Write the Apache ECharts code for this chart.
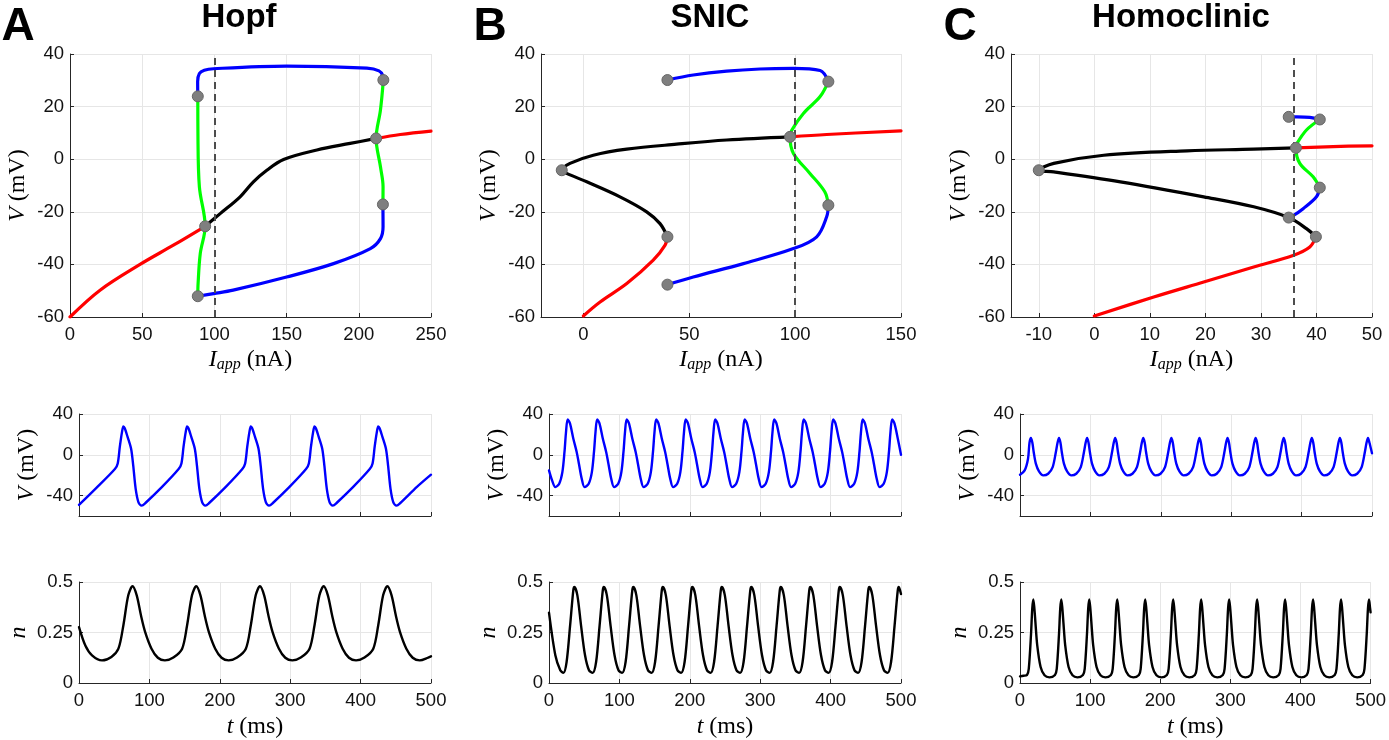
<!DOCTYPE html>
<html><head><meta charset="utf-8">
<script src="https://cdn.jsdelivr.net/npm/echarts@6/dist/echarts.min.js"></script>
<style>html,body{margin:0;padding:0;background:#fff}#c{width:1389px;height:740px}</style>
</head><body><div id="c"></div><script>
// ---------- tick labels ----------
const hopfXTicks = [0,50,100,150,200,250];
const snicXTicks = [0,50,100,150];
const homXTicks = [-10,0,10,20,30,40,50];
const bifVTicks = [-60,-40,-20,0,20,40];
const timeTicks = [0,100,200,300,400,500];
const traceVTicks = [-40,0,40];
const traceNTicks = [0,0.25,0.5];
const panelTitles = ['Hopf','SNIC','Homoclinic'];
const panelLetters = ['A','B','C'];
const dashX = [100,100,36];

// ---------- Hopf bifurcation diagram ----------
const hopfRedLow = [[0,-60],[20.8,-49.8],[48.5,-40],[71.6,-32.7],[93.6,-25.5]];
const hopfBlack = [[93.6,-25.5],[104,-20.7],[117.8,-14.3],[127,-8.6],[136.3,-4.2],[147.9,-0.1],[171,3.5],[194,6],[212,7.9]];
const hopfRedHigh = [[212,7.9],[228.7,9.4],[250,10.7]];
const hopfGreenL = [[88.5,23.9],[88.6,9.8],[89.6,-10.5],[93.6,-25.5],[90.2,-35.9],[88.7,-47.3],[88.5,-52.1]];
const hopfGreenR = [[217,30.1],[215,18.7],[212,7.9],[215,-2.9],[216.8,-10.5],[216.7,-17.2]];
const hopfBlueTop = [[88.5,23.9],[88.4,29.5],[89.6,32.6],[93,33.8],[99.4,34.4],[150,35.4],[205.6,34.6],[214,33.6],[216.6,31.8],[217,30.1]];
const hopfBlueBot = [[216.7,-17.2],[216.8,-25.7],[215,-30.2],[208,-34],[182.5,-39.7],[150,-44.8],[113,-49.8],[99.4,-51.1],[88.5,-52.1]];
const hopfDots = [[88.5,23.9],[217,30.1],[212,7.9],[216.7,-17.2],[93.6,-25.5],[88.5,-52.1]];

// ---------- SNIC bifurcation diagram ----------
const snicRedLow = [[0,-59.6],[7.9,-54.3],[20.5,-47.3],[33,-38.4],[38.6,-32.7],[39.7,-29.5]];
const snicBlack = [[39.7,-29.5],[36.2,-24.5],[29.9,-20],[17.3,-14.3],[1.6,-8.6],[-7.9,-5.4],[-10.2,-4.2],[-6.3,-1.6],[4.7,1.5],[20.5,3.8],[44,5.7],[67.7,7.3],[97.6,8.5]];
const snicRedHigh = [[97.6,8.5],[114.9,9.4],[150,10.8]];
const snicBlueTop = [[39.7,30.1],[51.9,32],[67.7,33.5],[83.4,34.3],[99.2,34.5],[111.8,33.7],[115.7,29.5]];
const snicGreen = [[115.7,29.5],[111.8,23.8],[103.9,17.4],[98.4,11],[97.6,8.5],[99.2,2.2],[107,-5.4],[114,-12.4],[115.7,-17.5]];
const snicBlueBot = [[115.7,-17.5],[114.9,-21.9],[110.2,-29.5],[99.2,-34],[75.6,-39.7],[51.9,-44.8],[39.7,-47.7]];
const snicDots = [[39.7,30.1],[115.7,29.5],[97.6,8.5],[-10.2,-4.2],[115.7,-17.5],[39.7,-29.5],[39.7,-47.7]];

// ---------- Homoclinic bifurcation diagram ----------
const homRedLow = [[0,-59.6],[10.7,-52.4],[19.7,-46.7],[28.7,-41],[35.9,-36.5],[38.8,-33.4],[39.9,-29.5]];
const homBlack = [[39.9,-29.5],[38.2,-26.4],[35,-22.2],[28.7,-18.1],[19.7,-14.3],[4.7,-8.6],[-7.3,-4.8],[-10,-4.2],[-7.3,-1.6],[1.7,1.5],[16.7,3.2],[28.7,3.8],[36.3,4.3]];
const homRedHigh = [[36.3,4.3],[43,4.8],[50,5.1]];
const homBlueTop = [[35,16.1],[36.5,16.1],[38.8,15.9],[40.6,15.1]];
const homGreen = [[40.6,15.1],[38.2,11.1],[36.5,6],[36.3,4.3],[37,-1.6],[39.4,-6.7],[40.6,-10.8]];
const homBlueBot = [[40.6,-10.8],[40,-14.3],[37.6,-18.8],[35.7,-21.6],[35,-22.2]];
const homDots = [[35,16.1],[40.6,15.1],[36.3,4.3],[-10,-4.2],[40.6,-10.8],[35,-22.2],[39.9,-29.5]];

// ---------- voltage traces ----------
const hopfV = [[0,-49.2],[24,-33],[51,-14],[55,-8.5],[58,8],[61,22],[63,27.8],[65,26],[69,17.6],[74,6],[77,-10.3],[80.5,-33.4],[84.5,-46.6],[89,-49.8],[94,-47.5],[118,-31.5],
[141.5,-14],[145.5,-8.5],[148.5,8],[151.5,22],[153.5,27.8],[155.5,26],[159.5,17.6],[164.5,6],[167.5,-10.3],[171,-33.4],[175,-46.6],[179.5,-49.8],[184.5,-47.5],[208.5,-31.5],
[232,-14],[236,-8.5],[239,8],[242,22],[244,27.8],[246,26],[250,17.6],[255,6],[258,-10.3],[261.5,-33.4],[265.5,-46.6],[270,-49.8],[275,-47.5],[299,-31.5],
[322.5,-14],[326.5,-8.5],[329.5,8],[332.5,22],[334.5,27.8],[336.5,26],[340.5,17.6],[345.5,6],[348.5,-10.3],[352,-33.4],[356,-46.6],[360.5,-49.8],[365.5,-47.5],[389.5,-31.5],
[413,-14],[417,-8.5],[420,8],[423,22],[425,27.8],[427,26],[431,17.6],[436,6],[439,-10.3],[442.5,-33.4],[446.5,-46.6],[451,-49.8],[456,-47.5],[480,-31.5],[500,-19.5]];

const snicV = [[0,-15.3],[4.3,-25],[9,-31.7],
[14.5,-28.4],[19,-17],[22,2.8],[24.2,22.6],[26.5,34.7],[29.8,30.8],[34.5,16],[39.3,2.8],[42.5,-8.7],[46.5,-23.5],[50.5,-31.7],
[56.4,-28.4],[60.9,-17],[63.9,2.8],[66.1,22.6],[68.4,34.7],[71.7,30.8],[76.4,16],[81.2,2.8],[84.4,-8.7],[88.4,-23.5],[92.4,-31.7],
[98.3,-28.4],[102.8,-17],[105.8,2.8],[108,22.6],[110.3,34.7],[113.6,30.8],[118.3,16],[123.1,2.8],[126.3,-8.7],[130.3,-23.5],[134.3,-31.7],
[140.2,-28.4],[144.7,-17],[147.7,2.8],[149.9,22.6],[152.2,34.7],[155.5,30.8],[160.2,16],[165,2.8],[168.2,-8.7],[172.2,-23.5],[176.2,-31.7],
[182.1,-28.4],[186.6,-17],[189.6,2.8],[191.8,22.6],[194.1,34.7],[197.4,30.8],[202.1,16],[206.9,2.8],[210.1,-8.7],[214.1,-23.5],[218.1,-31.7],
[224,-28.4],[228.5,-17],[231.5,2.8],[233.7,22.6],[236,34.7],[239.3,30.8],[244,16],[248.8,2.8],[252,-8.7],[256,-23.5],[260,-31.7],
[265.9,-28.4],[270.4,-17],[273.4,2.8],[275.6,22.6],[277.9,34.7],[281.2,30.8],[285.9,16],[290.7,2.8],[293.9,-8.7],[297.9,-23.5],[301.9,-31.7],
[307.8,-28.4],[312.3,-17],[315.3,2.8],[317.5,22.6],[319.8,34.7],[323.1,30.8],[327.8,16],[332.6,2.8],[335.8,-8.7],[339.8,-23.5],[343.8,-31.7],
[349.7,-28.4],[354.2,-17],[357.2,2.8],[359.4,22.6],[361.7,34.7],[365,30.8],[369.7,16],[374.5,2.8],[377.7,-8.7],[381.7,-23.5],[385.7,-31.7],
[391.6,-28.4],[396.1,-17],[399.1,2.8],[401.3,22.6],[403.6,34.7],[406.9,30.8],[411.6,16],[416.4,2.8],[419.6,-8.7],[423.6,-23.5],[427.6,-31.7],
[433.5,-28.4],[438,-17],[441,2.8],[443.2,22.6],[445.5,34.7],[448.8,30.8],[453.5,16],[458.3,2.8],[461.5,-8.7],[465.5,-23.5],[469.5,-31.7],
[475.4,-28.4],[479.9,-17],[482.9,2.8],[485.1,22.6],[487.4,34.7],[490.7,30.8],[495.4,16],[500,0]];

const homV = [[0,-19.6],[6.6,-15.3],[11.4,-3.8],[13.5,12],[15.5,16.5],[17.5,12],[19.5,2.5],[22.5,-8.7],[27,-16.3],[33,-20.2],[40,-18.6],
[46.4,-12],[50.9,2.5],[53.4,12],[55.4,16.5],[57.4,12],[59.4,2.5],[62.4,-8.7],[66.9,-16.3],[72.9,-20.2],[79.9,-18.6],
[86.3,-12],[90.8,2.5],[93.3,12],[95.3,16.5],[97.3,12],[99.3,2.5],[102.3,-8.7],[106.8,-16.3],[112.8,-20.2],[119.8,-18.6],
[126.2,-12],[130.7,2.5],[133.2,12],[135.2,16.5],[137.2,12],[139.2,2.5],[142.2,-8.7],[146.7,-16.3],[152.7,-20.2],[159.7,-18.6],
[166.1,-12],[170.6,2.5],[173.1,12],[175.1,16.5],[177.1,12],[179.1,2.5],[182.1,-8.7],[186.6,-16.3],[192.6,-20.2],[199.6,-18.6],
[206,-12],[210.5,2.5],[213,12],[215,16.5],[217,12],[219,2.5],[222,-8.7],[226.5,-16.3],[232.5,-20.2],[239.5,-18.6],
[245.9,-12],[250.4,2.5],[252.9,12],[254.9,16.5],[256.9,12],[258.9,2.5],[261.9,-8.7],[266.4,-16.3],[272.4,-20.2],[279.4,-18.6],
[285.8,-12],[290.3,2.5],[292.8,12],[294.8,16.5],[296.8,12],[298.8,2.5],[301.8,-8.7],[306.3,-16.3],[312.3,-20.2],[319.3,-18.6],
[325.7,-12],[330.2,2.5],[332.7,12],[334.7,16.5],[336.7,12],[338.7,2.5],[341.7,-8.7],[346.2,-16.3],[352.2,-20.2],[359.2,-18.6],
[365.6,-12],[370.1,2.5],[372.6,12],[374.6,16.5],[376.6,12],[378.6,2.5],[381.6,-8.7],[386.1,-16.3],[392.1,-20.2],[399.1,-18.6],
[405.5,-12],[410,2.5],[412.5,12],[414.5,16.5],[416.5,12],[418.5,2.5],[421.5,-8.7],[426,-16.3],[432,-20.2],[439,-18.6],
[445.4,-12],[449.9,2.5],[452.4,12],[454.4,16.5],[456.4,12],[458.4,2.5],[461.4,-8.7],[465.9,-16.3],[471.9,-20.2],[478.9,-18.6],
[485.3,-12],[489.8,2.5],[492.3,12],[494.3,16.5],[496.3,12],[500,1.5]];

// ---------- gating variable traces ----------
const hopfN = [[0,0.277],[9,0.186],[18.5,0.137],[32.7,0.112],[46,0.129],
[56,0.17],[63,0.285],[70,0.434],[76,0.479],[82,0.434],[88,0.335],[94,0.252],[103,0.17],[112,0.125],[122,0.112],[134,0.126],
[146.5,0.17],[153.5,0.285],[160.5,0.434],[166.5,0.479],[172.5,0.434],[178.5,0.335],[184.5,0.252],[193.5,0.17],[202.5,0.125],[212.5,0.112],[224.5,0.126],
[237,0.17],[244,0.285],[251,0.434],[257,0.479],[263,0.434],[269,0.335],[275,0.252],[284,0.17],[293,0.125],[303,0.112],[315,0.126],
[327.5,0.17],[334.5,0.285],[341.5,0.434],[347.5,0.479],[353.5,0.434],[359.5,0.335],[365.5,0.252],[374.5,0.17],[383.5,0.125],[393.5,0.112],[405.5,0.126],
[418,0.17],[425,0.285],[432,0.434],[438,0.479],[444,0.434],[450,0.335],[456,0.252],[465,0.17],[474,0.125],[484,0.112],[496,0.126],[500,0.132]];

const snicN = [[0,0.348],[9,0.137],[16,0.063],[20.5,0.05],
[25,0.104],[30,0.285],[34.5,0.459],[36,0.475],[40.3,0.434],[45.5,0.285],[51.2,0.137],[56.8,0.063],[62,0.05],
[66.9,0.104],[71.9,0.285],[76.4,0.459],[77.9,0.475],[82.2,0.434],[87.4,0.285],[93.1,0.137],[98.7,0.063],[103.9,0.05],
[108.8,0.104],[113.8,0.285],[118.3,0.459],[119.8,0.475],[124.1,0.434],[129.3,0.285],[135,0.137],[140.6,0.063],[145.8,0.05],
[150.7,0.104],[155.7,0.285],[160.2,0.459],[161.7,0.475],[166,0.434],[171.2,0.285],[176.9,0.137],[182.5,0.063],[187.7,0.05],
[192.6,0.104],[197.6,0.285],[202.1,0.459],[203.6,0.475],[207.9,0.434],[213.1,0.285],[218.8,0.137],[224.4,0.063],[229.6,0.05],
[234.5,0.104],[239.5,0.285],[244,0.459],[245.5,0.475],[249.8,0.434],[255,0.285],[260.7,0.137],[266.3,0.063],[271.5,0.05],
[276.4,0.104],[281.4,0.285],[285.9,0.459],[287.4,0.475],[291.7,0.434],[296.9,0.285],[302.6,0.137],[308.2,0.063],[313.4,0.05],
[318.3,0.104],[323.3,0.285],[327.8,0.459],[329.3,0.475],[333.6,0.434],[338.8,0.285],[344.5,0.137],[350.1,0.063],[355.3,0.05],
[360.2,0.104],[365.2,0.285],[369.7,0.459],[371.2,0.475],[375.5,0.434],[380.7,0.285],[386.4,0.137],[392,0.063],[397.2,0.05],
[402.1,0.104],[407.1,0.285],[411.6,0.459],[413.1,0.475],[417.4,0.434],[422.6,0.285],[428.3,0.137],[433.9,0.063],[439.1,0.05],
[444,0.104],[449,0.285],[453.5,0.459],[455,0.475],[459.3,0.434],[464.5,0.285],[470.2,0.137],[475.8,0.063],[481,0.05],
[485.9,0.104],[490.9,0.285],[495.4,0.459],[496.9,0.475],[500,0.44]];

const homN = [[0,0.033],[5,0.036],
[10,0.04],[12.5,0.07],[15.7,0.24],[17.5,0.37],[19,0.414],[20.5,0.37],[22,0.3],[24.6,0.186],[29.4,0.079],[35,0.038],[42,0.028],
[49.9,0.04],[52.4,0.07],[55.6,0.24],[57.4,0.37],[58.9,0.414],[60.4,0.37],[61.9,0.3],[64.5,0.186],[69.3,0.079],[74.9,0.038],[81.9,0.028],
[89.8,0.04],[92.3,0.07],[95.5,0.24],[97.3,0.37],[98.8,0.414],[100.3,0.37],[101.8,0.3],[104.4,0.186],[109.2,0.079],[114.8,0.038],[121.8,0.028],
[129.7,0.04],[132.2,0.07],[135.4,0.24],[137.2,0.37],[138.7,0.414],[140.2,0.37],[141.7,0.3],[144.3,0.186],[149.1,0.079],[154.7,0.038],[161.7,0.028],
[169.6,0.04],[172.1,0.07],[175.3,0.24],[177.1,0.37],[178.6,0.414],[180.1,0.37],[181.6,0.3],[184.2,0.186],[189,0.079],[194.6,0.038],[201.6,0.028],
[209.5,0.04],[212,0.07],[215.2,0.24],[217,0.37],[218.5,0.414],[220,0.37],[221.5,0.3],[224.1,0.186],[228.9,0.079],[234.5,0.038],[241.5,0.028],
[249.4,0.04],[251.9,0.07],[255.1,0.24],[256.9,0.37],[258.4,0.414],[259.9,0.37],[261.4,0.3],[264,0.186],[268.8,0.079],[274.4,0.038],[281.4,0.028],
[289.3,0.04],[291.8,0.07],[295,0.24],[296.8,0.37],[298.3,0.414],[299.8,0.37],[301.3,0.3],[303.9,0.186],[308.7,0.079],[314.3,0.038],[321.3,0.028],
[329.2,0.04],[331.7,0.07],[334.9,0.24],[336.7,0.37],[338.2,0.414],[339.7,0.37],[341.2,0.3],[343.8,0.186],[348.6,0.079],[354.2,0.038],[361.2,0.028],
[369.1,0.04],[371.6,0.07],[374.8,0.24],[376.6,0.37],[378.1,0.414],[379.6,0.37],[381.1,0.3],[383.7,0.186],[388.5,0.079],[394.1,0.038],[401.1,0.028],
[409,0.04],[411.5,0.07],[414.7,0.24],[416.5,0.37],[418,0.414],[419.5,0.37],[421,0.3],[423.6,0.186],[428.4,0.079],[434,0.038],[441,0.028],
[448.9,0.04],[451.4,0.07],[454.6,0.24],[456.4,0.37],[457.9,0.414],[459.4,0.37],[460.9,0.3],[463.5,0.186],[468.3,0.079],[473.9,0.038],[480.9,0.028],
[488.8,0.04],[491.3,0.07],[494.5,0.24],[496.3,0.37],[497.8,0.414],[499.3,0.37],[500,0.35]];

// ---------- styling ----------
const AX = '#262626', GRIDC = '#e6e6e6';
const RED = '#ff0000', BLK = '#000000', GRN = '#00ff00', BLU = '#0000ff';
const SANS = 'Liberation Sans', SERIF = 'Liberation Serif';
const NAMEFS = 24;
const nameRich = {
  i: {fontFamily: SERIF, fontStyle: 'italic', fontSize: NAMEFS, color: '#000'},
  s: {fontFamily: SERIF, fontStyle: 'italic', fontSize: 16, color: '#000', padding: [10, 0, 0, 0]}
};

const grids = [
  {left: 70, top: 54, width: 361, height: 263},
  {left: 541, top: 54, width: 360, height: 263},
  {left: 1011, top: 54, width: 361, height: 263},
  {left: 79, top: 414, width: 352, height: 102},
  {left: 549, top: 414, width: 352, height: 102},
  {left: 1020, top: 414, width: 352, height: 102},
  {left: 79, top: 582, width: 352, height: 101},
  {left: 549, top: 582, width: 352, height: 101},
  {left: 1020, top: 582, width: 352, height: 101}
];

function axis(gi, min, max, ticks, showLabels, name, gap, isY) {
  return {
    type: 'value', gridIndex: gi, min: min, max: max,
    axisLine: {show: true, onZero: false, lineStyle: {color: AX, width: 1}},
    axisTick: {show: true, inside: true, length: 4, customValues: ticks, lineStyle: {color: AX}},
    axisLabel: {show: showLabels, customValues: ticks, margin: isY ? 6 : 8,
      fontFamily: SANS, fontSize: 18.5, color: '#111'},
    splitLine: {show: true, lineStyle: {color: GRIDC, width: 1}},
    name: name || '', nameLocation: 'middle', nameGap: gap || 0,
    nameTextStyle: {fontFamily: SERIF, fontSize: NAMEFS, color: '#000', rich: nameRich}
  };
}

const xName = '{i|I}{s|app} (nA)';
const vName = '{i|V} (mV)';
const tName = '{i|t} (ms)';
const nName = '{i|n}';

const xAxes = [
  axis(0, 0, 250, hopfXTicks, true, xName, 30),
  axis(1, -20, 150, snicXTicks, true, xName, 30),
  axis(2, -15, 50, homXTicks, true, xName, 30),
  axis(3, 0, 500, timeTicks, false),
  axis(4, 0, 500, timeTicks, false),
  axis(5, 0, 500, timeTicks, false),
  axis(6, 0, 500, timeTicks, true, tName, 32),
  axis(7, 0, 500, timeTicks, true, tName, 32),
  axis(8, 0, 500, timeTicks, true, tName, 32)
];
const yAxes = [
  axis(0, -60, 40, bifVTicks, true, vName, 40, true),
  axis(1, -60, 40, bifVTicks, true, vName, 40, true),
  axis(2, -60, 40, bifVTicks, true, vName, 40, true),
  axis(3, -60, 40, traceVTicks, true, vName, 40, true),
  axis(4, -60, 40, traceVTicks, true, vName, 40, true),
  axis(5, -60, 40, traceVTicks, true, vName, 40, true),
  axis(6, 0, 0.5, traceNTicks, true, nName, 48, true),
  axis(7, 0, 0.5, traceNTicks, true, nName, 48, true),
  axis(8, 0, 0.5, traceNTicks, true, nName, 48, true)
];

function line(gi, data, color, width, smooth, extra) {
  return Object.assign({
    type: 'line', xAxisIndex: gi, yAxisIndex: gi, data: data,
    showSymbol: false, symbol: 'none', smooth: smooth, silent: true,
    lineStyle: {color: color, width: width, cap: 'round', join: 'round'},
    itemStyle: {color: color}, z: 2
  }, extra || {});
}
function dashMark(x) {
  return {markLine: {silent: true, symbol: 'none', label: {show: false},
    lineStyle: {type: [7, 5], color: '#4d4d4d', width: 2},
    data: [{xAxis: x}], z: 3}};
}
function dots(gi, data) {
  return {type: 'scatter', xAxisIndex: gi, yAxisIndex: gi, data: data, symbolSize: 11, silent: true,
    itemStyle: {color: '#7f7f7f', borderColor: '#666', borderWidth: 1, opacity: 1}, z: 5};
}

const S = 0.35, W = 3.2;
const series = [
  line(0, hopfRedLow, RED, W, S), line(0, hopfBlack, BLK, W, S), line(0, hopfRedHigh, RED, W, S),
  line(0, hopfGreenL, GRN, W, S), line(0, hopfGreenR, GRN, W, S),
  line(0, hopfBlueTop, BLU, W, S), line(0, hopfBlueBot, BLU, W, S, dashMark(dashX[0])),
  dots(0, hopfDots),
  line(1, snicRedLow, RED, W, S), line(1, snicBlack, BLK, W, S), line(1, snicRedHigh, RED, W, S),
  line(1, snicGreen, GRN, W, S), line(1, snicBlueTop, BLU, W, S), line(1, snicBlueBot, BLU, W, S, dashMark(dashX[1])),
  dots(1, snicDots),
  line(2, homRedLow, RED, W, S), line(2, homBlack, BLK, W, S), line(2, homRedHigh, RED, W, S),
  line(2, homGreen, GRN, W, S), line(2, homBlueTop, BLU, W, S), line(2, homBlueBot, BLU, W, S, dashMark(dashX[2])),
  dots(2, homDots),
  line(3, hopfV, BLU, 2.4, 0.3), line(4, snicV, BLU, 2.4, 0.3), line(5, homV, BLU, 2.4, 0.3),
  line(6, hopfN, BLK, 2.4, 0.3), line(7, snicN, BLK, 2.4, 0.3), line(8, homN, BLK, 2.4, 0.3)
];

const titleCenters = [239, 710, 1181];
const letterCenters = [18, 490, 960];
const graphic = [];
for (let k = 0; k < 3; k++) {
  graphic.push({type: 'text', x: titleCenters[k], y: 18, silent: true,
    style: {text: panelTitles[k], font: 'bold 33px "Liberation Sans"', fill: '#000', align: 'center', verticalAlign: 'middle'}});
  graphic.push({type: 'text', x: letterCenters[k], y: 27, silent: true,
    style: {text: panelLetters[k], font: 'bold 46px "Liberation Sans"', fill: '#000', align: 'center', verticalAlign: 'middle'}});
}

const chart = echarts.init(document.getElementById('c'), null, {renderer: 'canvas'});
chart.setOption({
  animation: false,
  backgroundColor: '#fff',
  grid: grids,
  xAxis: xAxes,
  yAxis: yAxes,
  series: series,
  graphic: graphic
});
</script></body></html>
